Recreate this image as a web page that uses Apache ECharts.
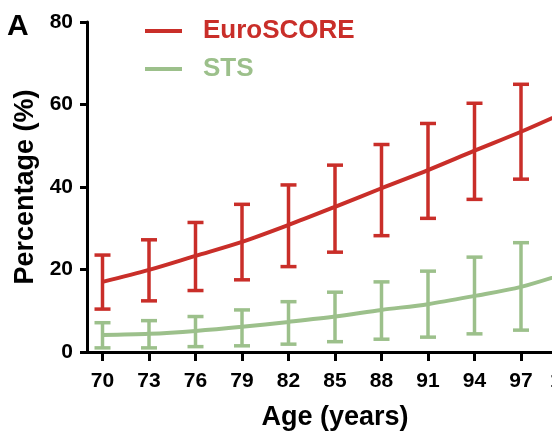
<!DOCTYPE html>
<html>
<head>
<meta charset="utf-8">
<script src="https://cdn.jsdelivr.net/npm/echarts@6/dist/echarts.min.js"></script>
<style>
  html, body { margin: 0; padding: 0; background: #fff; }
  #chart { width: 552px; height: 432px; }
</style>
</head>
<body>
<div id="chart"></div>
<script>
// ages on the x axis
const ages = [70, 73, 76, 79, 82, 85, 88, 91, 94, 97, 100]

// EuroSCORE: mean, lower and upper end of error bar (%)
const euroMean = [17.0, 19.9, 23.3, 26.7, 30.8, 35.2, 39.7, 44.1, 48.8, 53.4, 58.4]
const euroLow = [10.4, 12.4, 14.9, 17.5, 20.7, 24.2, 28.2, 32.4, 37.0, 41.9, 46.5]
const euroHigh = [23.5, 27.2, 31.4, 35.8, 40.5, 45.3, 50.3, 55.4, 60.3, 64.9, 70.0]

// STS
const stsMean = [4.1, 4.4, 5.1, 6.1, 7.3, 8.6, 10.2, 11.6, 13.6, 15.8, 19.2]
const stsLow = [1.0, 1.0, 1.3, 1.5, 1.9, 2.5, 3.1, 3.6, 4.4, 5.3, 6.3]
const stsHigh = [7.1, 7.6, 8.6, 10.2, 12.2, 14.5, 17.0, 19.6, 23.0, 26.5, 30.5]

const yTicks = [0, 20, 40, 60, 80]

const RED = '#c92e29'
const GREEN = '#9cc08b'
const FONT = 'Liberation Sans, Arial, sans-serif'

const chart = echarts.init(document.getElementById('chart'))

const errorBars = (name, low, high, color) => ({
  name: name,
  type: 'custom',
  data: ages.map((a, i) => [a, low[i], high[i]]),
  encode: { x: 0, y: [1, 2] },
  z: 2,
  silent: true,
  itemStyle: { color: color },
  renderItem: (params, api) => {
    const lo = api.coord([api.value(0), api.value(1)])
    const hi = api.coord([api.value(0), api.value(2)])
    const half = 8
    const style = { stroke: color, lineWidth: 3.5 }
    return {
      type: 'group',
      children: [
        { type: 'line', shape: { x1: lo[0], y1: lo[1], x2: hi[0], y2: hi[1] }, style: style },
        { type: 'line', shape: { x1: lo[0] - half, y1: lo[1], x2: lo[0] + half, y2: lo[1] }, style: style },
        { type: 'line', shape: { x1: hi[0] - half, y1: hi[1], x2: hi[0] + half, y2: hi[1] }, style: style }
      ]
    }
  }
})

const option = {
  animation: false,
  backgroundColor: '#fff',
  grid: { left: 87, top: 22, width: 496, height: 330, containLabel: false, outerBoundsMode: 'none' },
  legend: {
    orient: 'vertical',
    left: 140,
    top: 13,
    itemGap: 12,
    itemWidth: 37,
    itemHeight: 4,
    icon: 'rect',
    textStyle: { fontFamily: FONT, fontSize: 26, fontWeight: 'bold', padding: [0, 0, 0, 16] },
    data: [
      { name: 'EuroSCORE', itemStyle: { color: RED }, textStyle: { color: RED } },
      { name: 'STS', itemStyle: { color: GREEN }, textStyle: { color: GREEN } }
    ]
  },
  graphic: [
    {
      type: 'text',
      left: 7,
      top: 12,
      style: { text: 'A', fontFamily: FONT, fontSize: 30, fontWeight: 'bold', fill: '#000' }
    }
  ],
  xAxis: {
    type: 'value',
    min: 69,
    max: 101,
    name: 'Age (years)',
    nameLocation: 'middle',
    nameGap: 52,
    nameTextStyle: { fontFamily: FONT, fontSize: 27, fontWeight: 'bold', color: '#000' },
    splitLine: { show: false },
    axisLine: { lineStyle: { color: '#000', width: 3 } },
    axisTick: { customValues: ages, length: 9, lineStyle: { color: '#000', width: 3 } },
    axisLabel: {
      customValues: ages,
      margin: 19,
      fontFamily: FONT,
      fontSize: 21,
      fontWeight: 'bold',
      color: '#000'
    }
  },
  yAxis: {
    type: 'value',
    min: 0,
    max: 80,
    interval: 20,
    name: 'Percentage (%)',
    nameLocation: 'middle',
    nameGap: 46,
    nameTextStyle: { fontFamily: FONT, fontSize: 27, fontWeight: 'bold', color: '#000' },
    splitLine: { show: false },
    axisLine: { show: true, lineStyle: { color: '#000', width: 3 } },
    axisTick: { show: true, length: 7, lineStyle: { color: '#000', width: 3 } },
    axisLabel: {
      margin: 14,
      fontFamily: FONT,
      fontSize: 21,
      fontWeight: 'bold',
      color: '#000',
      formatter: v => (yTicks.includes(v) ? String(v) : '')
    }
  },
  series: [
    errorBars('EuroSCORE', euroLow, euroHigh, RED),
    errorBars('STS', stsLow, stsHigh, GREEN),
    {
      name: 'EuroSCORE',
      type: 'line',
      smooth: 0.3,
      showSymbol: false,
      z: 3,
      data: ages.map((a, i) => [a, euroMean[i]]),
      itemStyle: { color: RED },
      lineStyle: { color: RED, width: 4 }
    },
    {
      name: 'STS',
      type: 'line',
      smooth: 0.3,
      showSymbol: false,
      z: 3,
      data: ages.map((a, i) => [a, stsMean[i]]),
      itemStyle: { color: GREEN },
      lineStyle: { color: GREEN, width: 4 }
    }
  ]
}

chart.setOption(option)
</script>
</body>
</html>
